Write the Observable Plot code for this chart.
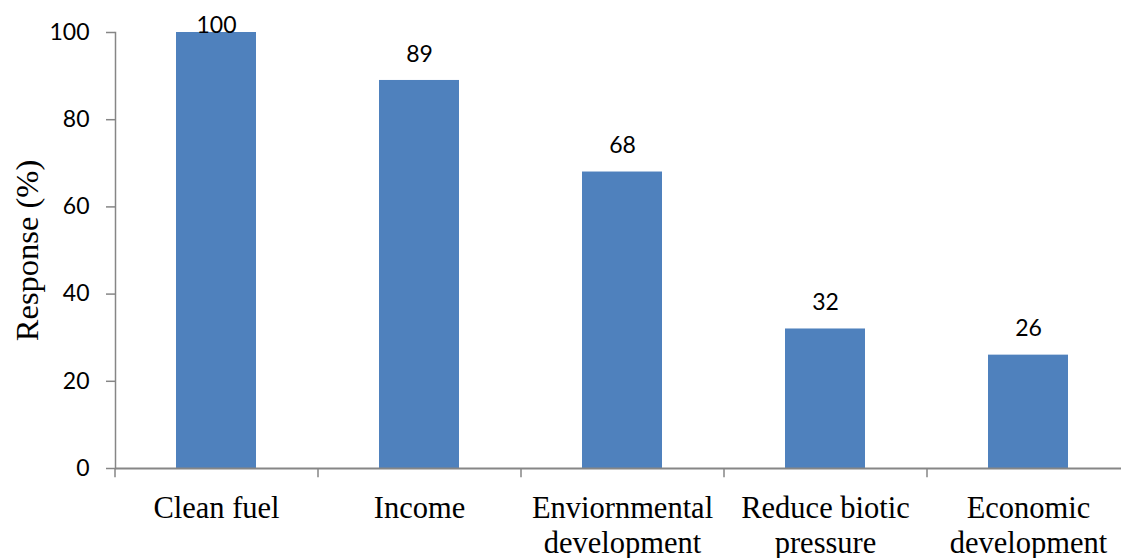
<!DOCTYPE html>
<html>
<head>
<meta charset="utf-8">
<script src="https://cdn.jsdelivr.net/npm/d3@7"></script>
<script src="https://cdn.jsdelivr.net/npm/@observablehq/plot@0.6"></script>
<style>
  html, body { margin: 0; padding: 0; background: #fff; }
</style>
</head>
<body>
<div id="chart"></div>
<script>
const categories = ["Clean fuel", "Income", "Enviornmental development", "Reduce biotic pressure", "Economic development"];
const labels = ["Clean fuel", "Income", "Enviornmental\ndevelopment", "Reduce biotic\npressure", "Economic\ndevelopment"];
const values = [100, 89, 68, 32, 26];
const yTicks = [0, 20, 40, 60, 80, 100];

const data = categories.map((c, i) => ({category: c, label: labels[i], value: values[i]}));

const W = 1121, H = 558;
const xRange = [115, 1130];
const step = (xRange[1] - xRange[0]) / categories.length;
const axisColor = "#868686";
const sans = "Lato, 'Open Sans', sans-serif";
const serif = "'Liberation Serif', 'Times New Roman', serif";

const chart = Plot.plot({
  width: W,
  height: H,
  marginLeft: 115,
  marginRight: 0,
  marginTop: 32,
  marginBottom: 90,
  style: {background: "#fff", overflow: "hidden"},
  x: {domain: categories, range: xRange, paddingInner: 0.605, paddingOuter: 0.3025, align: 0.5, axis: null},
  y: {domain: [0, 100], axis: null},
  marks: [
    Plot.barY(data, {x: "category", y: "value", fill: "#4F81BD"}),
    // y axis
    Plot.frame({anchor: "left", stroke: axisColor, strokeWidth: 1.5}),
    Plot.axisY(yTicks, {
      ticks: yTicks, tickSize: 9, tickPadding: 17, stroke: axisColor, strokeWidth: 1.5,
      fill: "#000", fontSize: 23, fontFamily: sans, label: null
    }),
    // x axis baseline
    Plot.ruleY([0], {stroke: axisColor, strokeWidth: 2}),
    // x ticks at band boundaries
    Plot.ruleX(categories, {x: d => d, y1: 0, y2: -2.1, dx: -step / 2, stroke: axisColor, strokeWidth: 1.5}),
    // x labels
    Plot.text(data, {
      x: "category", y: 0, text: "label", lineAnchor: "top", dy: 25,
      fontSize: 30.5, fontFamily: serif, lineHeight: 1.15, fill: "#000"
    }),
    // value labels
    Plot.text(data, {
      x: "category", y: d => Math.min(d.value + 4.3, 100), text: d => String(d.value),
      lineAnchor: "bottom", fontSize: 23, fontFamily: sans, fill: "#000"
    }),
    // y axis title
    Plot.text(["Response (%)"], {
      frameAnchor: "left", dx: -88, rotate: -90, text: d => d,
      textAnchor: "middle", lineAnchor: "middle",
      fontSize: 32.5, fontFamily: serif, fill: "#000"
    })
  ]
});

document.getElementById("chart").appendChild(chart);
</script>
</body>
</html>
